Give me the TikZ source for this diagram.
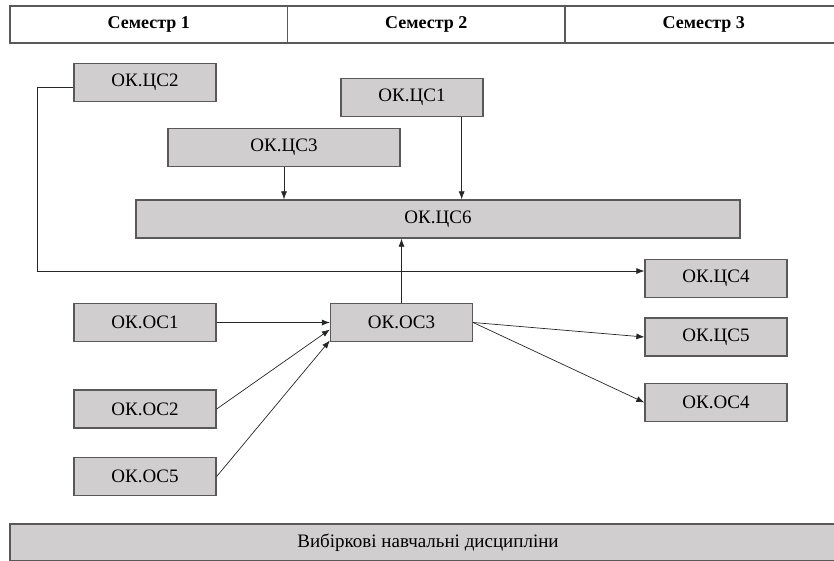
\documentclass[tikz,border=0pt]{standalone}
\usepackage{fontspec}
\setmainfont{Liberation Serif}
\usepackage{tikz}
\usetikzlibrary{arrows.meta}
\definecolor{boxgrey}{HTML}{D0CECE}
\definecolor{boxline}{HTML}{595959}
\tikzstyle{course}=[rectangle,fill=boxgrey,draw=boxline,line width=1.3pt,minimum height=38pt,inner sep=0pt,font=\fontsize{19}{21}\selectfont]
\tikzstyle{semester}=[rectangle,fill=white,draw=boxline,line width=1.3pt,minimum width=277.5pt,minimum height=37pt,inner sep=0pt,font=\bfseries\fontsize{18}{20}\selectfont]
\tikzstyle{edge} = [draw,line width=0.7pt,black!85,-{Latex[length=8pt,width=6pt]}]

\begin{document}
\begin{tikzpicture}[x=1pt,y=-1pt]
\useasboundingbox (0,0) rectangle (834,560);

% semesters
    \foreach \pos/\name/\label in {{(148.75,24.5)/S1/Семестр 1}, {(426.25,24.5)/S2/Семестр 2}, {(703.75,24.5)/S3/Семестр 3}}
        \node[semester] (\name) at \pos {\label};

% courses
    \foreach \pos/\name/\label/\w in {{(145,82.5)/CS2/ОК.ЦС2/142}, {(412,97.5)/CS1/ОК.ЦС1/142}, {(284,147.5)/CS3/ОК.ЦС3/232}, {(438,219)/CS6/ОК.ЦС6/604}, {(716,278.5)/CS4/ОК.ЦС4/142}, {(145,322.5)/OS1/ОК.ОС1/142}, {(401.5,322.5)/OS3/ОК.ОС3/142}, {(716,337)/CS5/ОК.ЦС5/142}, {(145,409)/OS2/ОК.ОС2/142}, {(716,402.5)/OS4/ОК.ОС4/142}, {(145,476.5)/OS5/ОК.ОС5/142}}
        \node[course, minimum width=\w pt] (\name) at \pos {\label};

    \node[course, minimum width=836pt, minimum height=37pt] (elective) at (428,542.5) {Вибіркові навчальні дисципліни};

% edges
    \foreach \source/\dest in {OS1/OS3, OS3/CS5, OS3/OS4}
          \path[edge] (\source.east) -- (\dest.west);
    \path[edge] (OS2.east) -- ([yshift=-7pt]OS3.west);
    \path[edge] (OS5.east) -- ([yshift=-18pt]OS3.west);

    \path[edge] (OS3.north) -- (OS3.north |- CS6.south);
    \path[edge] (CS3.south) -- (CS3.south |- CS6.north);
    \coordinate (cs1out) at ([xshift=-22pt]CS1.south east);
    \path[edge] (cs1out) -- (cs1out |- CS6.north);

    \coordinate (bend) at (37,271);
    \path[edge] ([yshift=-5pt]CS2.west) -| (bend) -- (bend -| CS4.west);

\end{tikzpicture}
\end{document}
